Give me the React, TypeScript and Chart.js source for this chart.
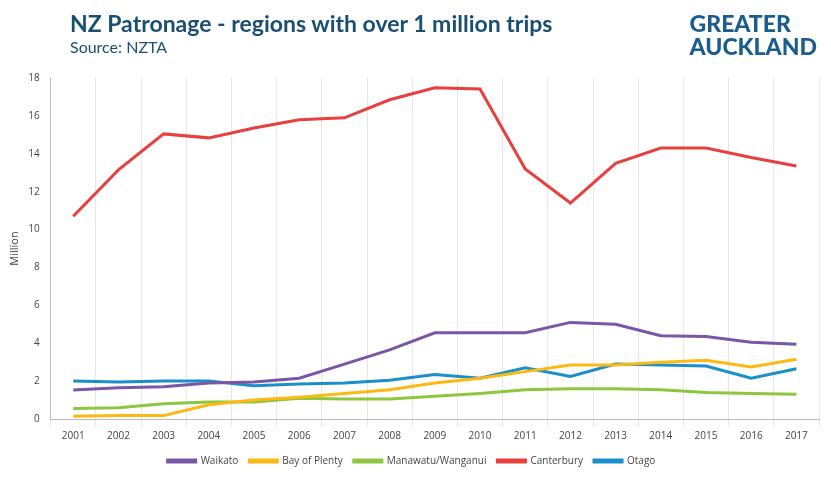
import React, { useEffect, useRef } from "react";
import { Chart, registerables } from "chart.js";
Chart.register(...registerables);

const years = ["2001","2002","2003","2004","2005","2006","2007","2008","2009","2010","2011","2012","2013","2014","2015","2016","2017"];
const waikato = [1.53,1.65,1.7,1.9,1.95,2.15,2.9,3.65,4.55,4.55,4.55,5.1,5.0,4.4,4.35,4.05,3.95];
const bayOfPlenty = [0.15,0.18,0.18,0.75,1.0,1.15,1.35,1.55,1.9,2.15,2.5,2.85,2.85,3.0,3.1,2.75,3.15];
const manawatu = [0.55,0.6,0.8,0.9,0.9,1.1,1.05,1.05,1.2,1.35,1.55,1.6,1.6,1.55,1.4,1.35,1.3];
const canterbury = [10.7,13.15,15.05,14.84,15.36,15.8,15.9,16.85,17.48,17.42,13.2,11.4,13.5,14.3,14.3,13.8,13.36];
const otago = [2.0,1.95,2.0,2.0,1.75,1.85,1.9,2.05,2.35,2.15,2.7,2.25,2.9,2.85,2.8,2.15,2.65];

export default function App() {
  const ref = useRef<HTMLCanvasElement>(null);
  useEffect(() => {
    document.body.style.margin = "0";
    const mk = (label: string, data: number[], color: string) => ({
      label, data, borderColor: color, backgroundColor: color, borderWidth: 3, pointRadius: 0, tension: 0,
    });
    const chart = new Chart(ref.current!, {
      type: "line",
      data: {
        labels: years,
        datasets: [
          mk("Waikato", waikato, "#7a56a6"),
          mk("Bay of Plenty", bayOfPlenty, "#fdb913"),
          mk("Manawatu/Wanganui", manawatu, "#8dc63f"),
          mk("Canterbury", canterbury, "#e8403f"),
          mk("Otago", otago, "#1a8fc9"),
        ],
      },
      options: {
        animation: false,
        responsive: false,
        layout: { padding: { top: 78, right: 12, left: 4, bottom: 4 } },
        plugins: {
          legend: {
            position: "bottom",
            labels: { boxWidth: 28, boxHeight: 2, font: { size: 10, family: "Open Sans" }, color: "#444", padding: 11 },
          },
          tooltip: { enabled: false },
        },
        scales: {
          x: {
            offset: true,
            grid: { offset: true, color: "#e6e6e6", drawTicks: true },
            border: { color: "#bbb" },
            ticks: { font: { size: 10, family: "Open Sans" }, color: "#444" },
          },
          y: {
            min: 0, max: 18,
            ticks: { stepSize: 2, font: { size: 10, family: "Open Sans" }, color: "#444" },
            grid: { display: false },
            border: { color: "#bbb" },
            title: { display: true, text: "Million", font: { size: 11, family: "Open Sans" }, color: "#444" },
          },
        },
      },
    });
    return () => chart.destroy();
  }, []);
  return (
    <div style={{ position: "relative", width: 831, height: 480, fontFamily: "Lato, 'Open Sans', sans-serif" }}>
      <canvas ref={ref} width={831} height={480} />
      <div style={{ position: "absolute", left: 70, top: 9, color: "#1b4f72", fontSize: 23, fontWeight: 700 }}>
        NZ Patronage - regions with over 1 million trips
      </div>
      <div style={{ position: "absolute", left: 70, top: 37, color: "#1b4f72", fontSize: 16 }}>Source: NZTA</div>
      <div style={{ position: "absolute", right: 14, top: 12, color: "#1b5d8c", fontSize: 23, fontWeight: 900, lineHeight: "23px", textAlign: "left" }}>
        <div>GREATER</div>
        <div>AUCKLAND</div>
      </div>
    </div>
  );
}
